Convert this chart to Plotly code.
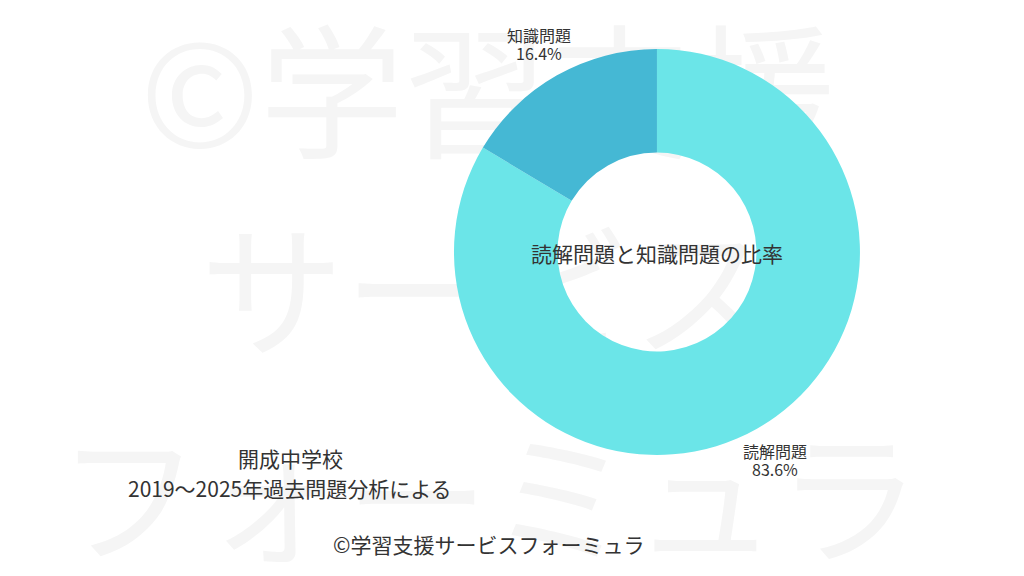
import math
import plotly.graph_objects as go

# Data
labels = ["読解問題", "知識問題"]
values = [83.6, 16.4]
colors = ["#6BE5E8", "#45B8D4"]

center_text = "読解問題と知識問題の比率"
school_text = "開成中学校"
source_text = "2019〜2025年過去問題分析による"
credit_text = "©学習支援サービスフォーミュラ"
watermark_rows = ["©学習支援", "サービス", "フォーミュラ"]

FONT = "Noto Sans CJK JP, Noto Sans, sans-serif"
TEXT_COLOR = "#333333"
W, H = 1024, 576

# Pie geometry (figure pixels)
PIE_DOMAIN_X = [0.4355, 0.832]
PIE_DOMAIN_Y = [0.224, 0.9288]
cx = (PIE_DOMAIN_X[0] + PIE_DOMAIN_X[1]) / 2 * W
cy = (1 - (PIE_DOMAIN_Y[0] + PIE_DOMAIN_Y[1]) / 2) * H
LABEL_R = 239  # label distance from pie centre

fig = go.Figure()

# Watermark (drawn on hidden cartesian axes, which sit beneath the pie layer)
fig.add_trace(go.Scatter(
    x=[0.4687, 0.4687, 0.4697],
    y=[0.822, 0.475, 0.117],
    mode="text",
    text=watermark_rows,
    textfont=dict(family=FONT, size=144, color="#f5f5f5"),
    hoverinfo="skip",
    showlegend=False,
))

fig.add_trace(go.Pie(
    labels=labels,
    values=values,
    hole=0.49,
    sort=False,
    direction="clockwise",
    rotation=0,
    marker=dict(colors=colors, line=dict(width=0)),
    textinfo="none",
    domain=dict(x=PIE_DOMAIN_X, y=PIE_DOMAIN_Y),
    showlegend=False,
    hoverinfo="label+percent",
))

# Outside labels placed at each slice's mid-angle
annotations = []
total = sum(values)
cum = 0.0
for lab, v in zip(labels, values):
    mid = (cum + v / 2) / total * 2 * math.pi
    cum += v
    px = cx + LABEL_R * math.sin(mid)
    py = cy - LABEL_R * math.cos(mid)
    for txt, dy in ((lab, -9), (f"{v / total * 100:.1f}%", 9)):
        annotations.append(dict(
            text=txt, x=px / W, y=1 - (py + dy) / H, xref="paper", yref="paper",
            xanchor="center", yanchor="middle", showarrow=False,
            font=dict(size=16, family=FONT, color=TEXT_COLOR)))

annotations += [
    dict(text=center_text, x=0.6338, y=0.5747, xref="paper", yref="paper",
         xanchor="center", yanchor="middle", showarrow=False,
         font=dict(size=21, family=FONT, color=TEXT_COLOR)),
    dict(text=school_text, x=0.2754, y=0.2188, xref="paper", yref="paper",
         xanchor="center", yanchor="middle", showarrow=False,
         font=dict(size=21, family=FONT, color=TEXT_COLOR)),
    dict(text=source_text, x=0.2754, y=0.1667, xref="paper", yref="paper",
         xanchor="center", yanchor="middle", showarrow=False,
         font=dict(size=21, family=FONT, color=TEXT_COLOR)),
    dict(text=credit_text, x=0.4692, y=0.0694, xref="paper", yref="paper",
         xanchor="center", yanchor="middle", showarrow=False,
         font=dict(size=21, family=FONT, color=TEXT_COLOR)),
]

fig.update_layout(
    width=W,
    height=H,
    margin=dict(l=0, r=0, t=0, b=0),
    paper_bgcolor="white",
    plot_bgcolor="rgba(0,0,0,0)",
    font=dict(family=FONT, color=TEXT_COLOR),
    xaxis=dict(range=[0, 1], visible=False, fixedrange=True, domain=[0, 1]),
    yaxis=dict(range=[0, 1], visible=False, fixedrange=True, domain=[0, 1]),
    showlegend=False,
    annotations=annotations,
)

fig.write_html("out.html")
